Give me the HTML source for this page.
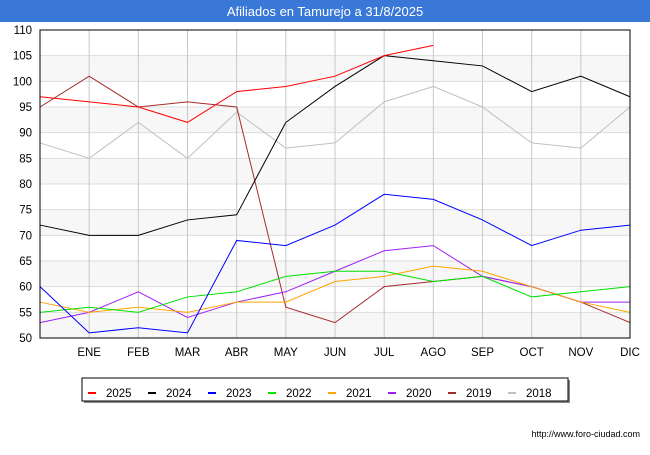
<!DOCTYPE html>
<html><head><meta charset="utf-8"><style>
body{margin:0;width:650px;height:450px;background:#fff;font-family:"Liberation Sans","DejaVu Sans",sans-serif;overflow:hidden}
</style></head><body>
<svg id="c" width="650" height="450" xmlns="http://www.w3.org/2000/svg">
<rect x="0" y="0" width="650" height="22" fill="#3a78d8"/>
<text x="325" y="16" text-anchor="middle" fill="#fff" font-size="13">Afiliados en Tamurejo a 31/8/2025</text>
<g id="grid"></g><g id="series"></g><g id="axes"></g><g id="legend"></g>
<text x="640" y="437" text-anchor="end" font-size="9" fill="#000">http://www.foro-ciudad.com</text>
</svg>
<script>
const months=["","ENE","FEB","MAR","ABR","MAY","JUN","JUL","AGO","SEP","OCT","NOV","DIC"];
const yTicks=[50,55,60,65,70,75,80,85,90,95,100,105,110];
const seriesNames=["2025","2024","2023","2022","2021","2020","2019","2018"];
const seriesColors=["#ff0000","#000000","#0000ff","#00e000","#ffa500","#a020f0","#a52a2a","#c0c0c0"];
const s2025=[97,96,95,92,98,99,101,105,107];
const s2024=[72,70,70,73,74,92,99,105,104,103,98,101,97];
const s2023=[60,51,52,51,69,68,72,78,77,73,68,71,72];
const s2022=[55,56,55,58,59,62,63,63,61,62,58,59,60];
const s2021=[57,55,56,55,57,57,61,62,64,63,60,57,55];
const s2020=[53,55,59,54,57,59,63,67,68,62,60,57,57];
const s2019=[95,101,95,96,95,56,53,60,61,62,60,57,53];
const s2018=[88,85,92,85,94,87,88,96,99,95,88,87,95];
const allSeries=[s2025,s2024,s2023,s2022,s2021,s2020,s2019,s2018];
const X0=40,X1=630,Y0=338,Y1=30;
const xs=i=>X0+i*(X1-X0)/12;
const ys=v=>Y0-(v-50)*(Y0-Y1)/60;
const NS="http://www.w3.org/2000/svg";
function mk(t,a,p){const e=document.createElementNS(NS,t);for(const k in a)e.setAttribute(k,a[k]);p.appendChild(e);return e;}
const G=document.getElementById('grid'),S=document.getElementById('series'),A=document.getElementById('axes'),L=document.getElementById('legend');
for(let i=0;i<yTicks.length-1;i++){if(i%2==0){const r=mk('rect',{x:X0,y:ys(yTicks[i+1]),width:X1-X0,height:ys(yTicks[i])-ys(yTicks[i+1]),fill:'#f7f7f7'},G);

}}
yTicks.forEach(v=>{const l=mk('line',{x1:X0,x2:X1,y1:ys(v),y2:ys(v),stroke:'#dddddd'},G);


const t=mk('text',{x:X0-8,y:ys(v)+4,'text-anchor':'end','font-size':'11.5',fill:'#000'},A);t.textContent=v;

});
months.forEach((m,i)=>{if(i>0){const l=mk('line',{x1:xs(i),x2:xs(i),y1:Y1,y2:Y0,stroke:'#c8c8c8'},G);


const t=mk('text',{x:xs(i),y:Y0+18,'text-anchor':'middle','font-size':'11.5',fill:'#000'},A);t.textContent=m;

}});
const fr=mk('rect',{x:X0,y:Y1,width:X1-X0,height:Y0-Y1,fill:'none',stroke:'#000'},A);


for(let k=allSeries.length-1;k>=0;k--){const d=allSeries[k];
const p=mk('polyline',{points:d.map((v,i)=>xs(i)+','+ys(v)).join(' '),fill:'none',stroke:seriesColors[k],'stroke-width':'1'},S);

}
mk('rect',{x:84,y:380,width:486,height:23,fill:'#888'},L);
const lb=mk('rect',{x:82,y:378,width:486,height:23,fill:'#fff',stroke:'#000'},L);


seriesNames.forEach((n,k)=>{const x=88+k*60;
const g=mk('g',{},L);


mk('line',{x1:x,x2:x+8,y1:393,y2:393,stroke:seriesColors[k],'stroke-width':'2'},g);
const t=mk('text',{x:x+18,y:397,'font-size':'11.5',fill:'#000'},g);t.textContent=n;});
</script>
</body></html>
